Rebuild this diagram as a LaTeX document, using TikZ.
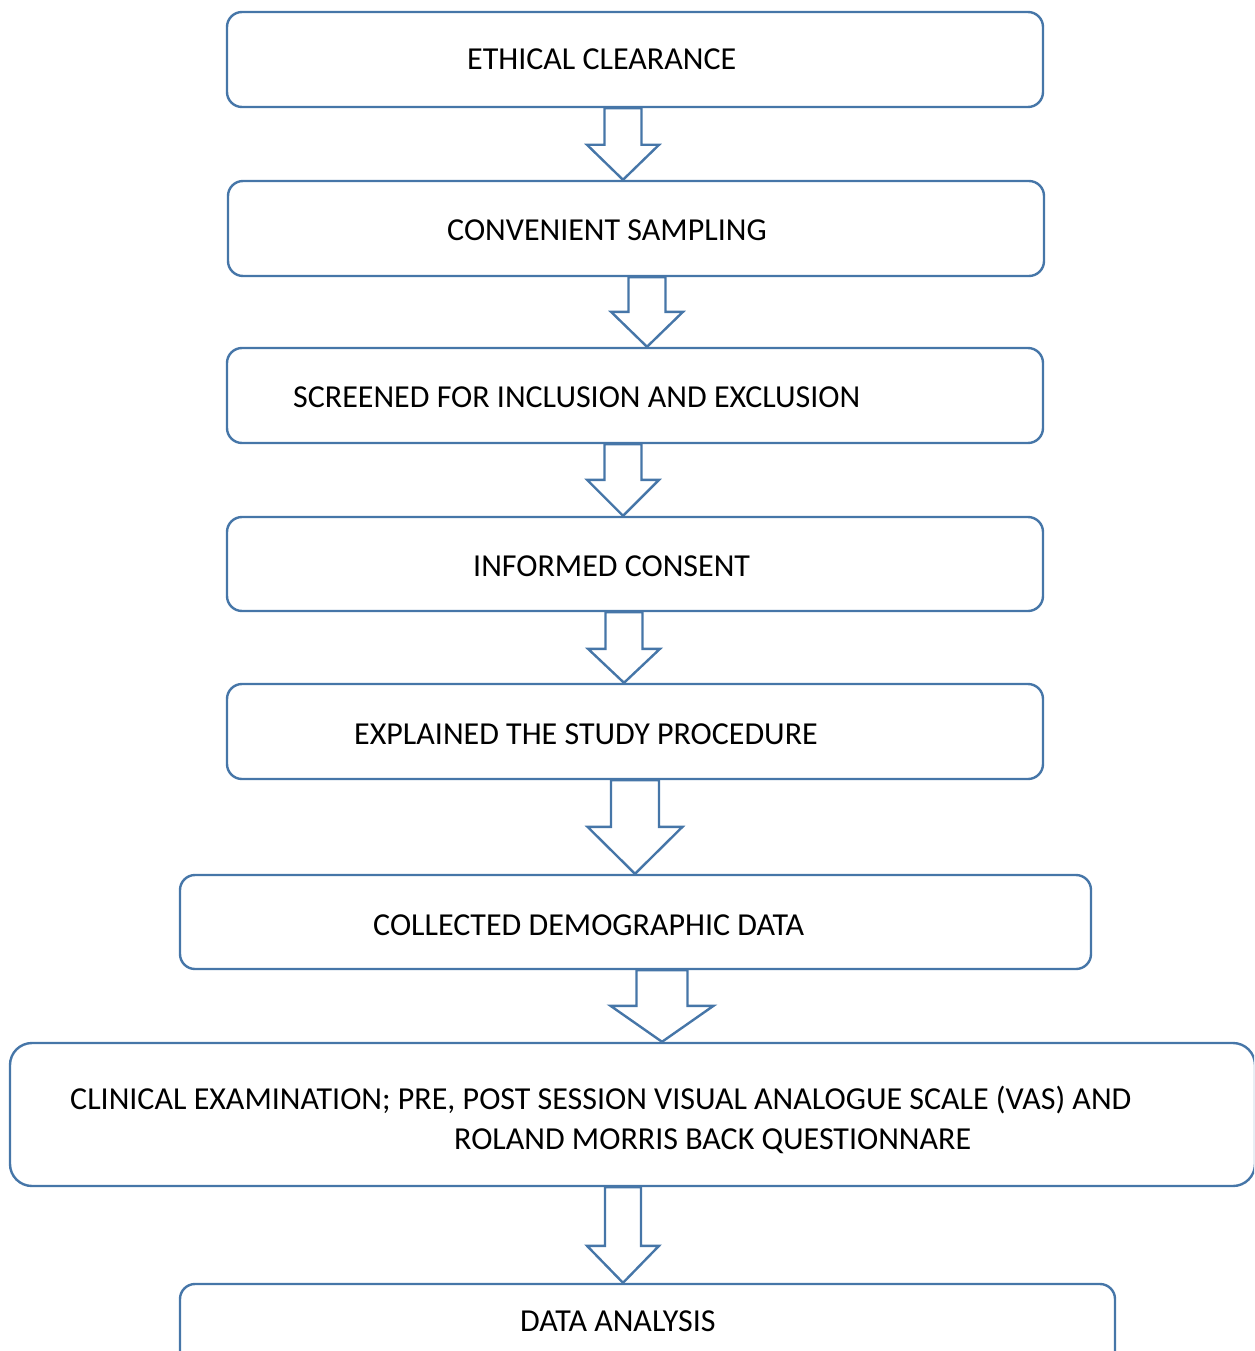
\documentclass[tikz,border=0pt]{standalone}
\usepackage{fontspec}
\setmainfont{Carlito}
\usetikzlibrary{calc}
\definecolor{edge}{RGB}{70,118,168}
\tikzset{
  box/.style={draw=edge, line width=2.4pt, rounded corners=15pt, rectangle, inner sep=0pt},
  lbl/.style={anchor=base west, inner sep=0pt, font=\fontsize{32}{38}\selectfont},
  arr/.style={draw=edge, line width=2.4pt, fill=white, line join=miter}
}
% #1 from node, #2 to node, #3 x of axis, #4 half shaft, #5 half head, #6 head length
\newcommand\blockarr[6]{%
  \draw[arr] ($(#1.south -| #3,0)+(-#4,0)$) -- ($(#2.north -| #3,0)+(-#4,-#6)$)
    -- ($(#2.north -| #3,0)+(-#5,-#6)$) -- (#2.north -| #3,0)
    -- ($(#2.north -| #3,0)+(#5,-#6)$) -- ($(#2.north -| #3,0)+(#4,-#6)$)
    -- ($(#1.south -| #3,0)+(#4,0)$) -- cycle;}
\begin{document}
\begin{tikzpicture}[x=1pt,y=-1pt]
\useasboundingbox (0,0) rectangle (1254,1351);
\begin{scope}
\clip (0,0) rectangle (1254,1351);
\node[box, minimum width=816, minimum height=95] (b1) at (635,59.5) {};
\node[box, minimum width=816, minimum height=95] (b2) at (636,228.5) {};
\node[box, minimum width=816, minimum height=95] (b3) at (635,395.5) {};
\node[box, minimum width=816, minimum height=94] (b4) at (635,564) {};
\node[box, minimum width=816, minimum height=95] (b5) at (635,731.5) {};
\node[box, minimum width=911, minimum height=94] (b6) at (635.5,922) {};
\node[box, rounded corners=22pt, minimum width=1245, minimum height=143] (b7) at (632.5,1114.5) {};
\node[box, minimum width=935, minimum height=95] (b8) at (647.5,1331.5) {};

\node[lbl] (t1) at (467,70) {ETHICAL CLEARANCE};
\node[lbl] (t2) at (447,240) {CONVENIENT SAMPLING};
\node[lbl] (t3) at (293,407) {SCREENED FOR INCLUSION AND EXCLUSION};
\node[lbl] (t4) at (473,576) {INFORMED CONSENT};
\node[lbl] (t5) at (354,744) {EXPLAINED THE STUDY PROCEDURE};
\node[lbl] (t6) at (373,935) {COLLECTED DEMOGRAPHIC DATA};
\node[lbl] (t7a) at (70,1109) {CLINICAL EXAMINATION; PRE, POST SESSION VISUAL ANALOGUE SCALE (VAS) AND};
\node[lbl] (t7b) at (454,1149) {ROLAND MORRIS BACK QUESTIONNARE};
\node[lbl] (t8) at (520,1331) {DATA ANALYSIS};

\blockarr{b1}{b2}{623}{18.5}{36}{35}
\blockarr{b2}{b3}{647}{18.5}{36}{35}
\blockarr{b3}{b4}{623}{18.5}{36}{36}
\blockarr{b4}{b5}{624}{18.5}{36}{34}
\blockarr{b5}{b6}{635}{24}{47.5}{47}
\blockarr{b6}{b7}{662}{25.5}{51.5}{36}
\blockarr{b7}{b8}{623}{18}{36}{37}
\end{scope}
\end{tikzpicture}
\end{document}
